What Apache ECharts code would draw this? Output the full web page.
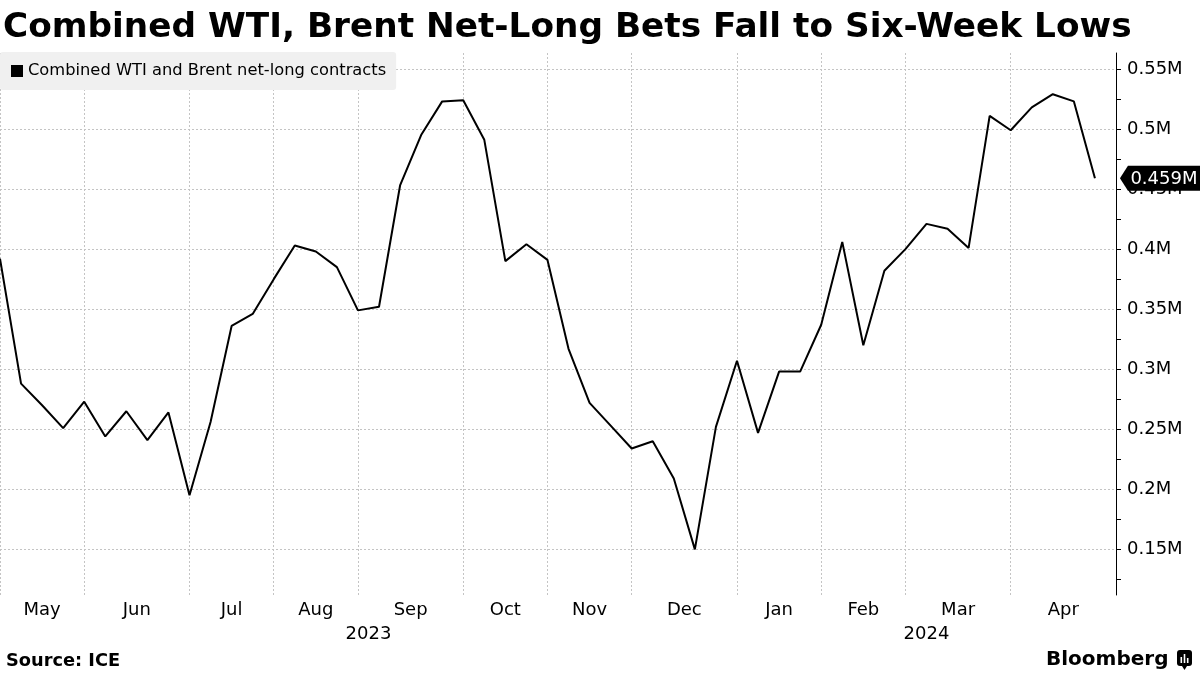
<!DOCTYPE html>
<html>
<head>
<meta charset="utf-8">
<script src="https://cdn.jsdelivr.net/npm/echarts@6/dist/echarts.min.js"></script>
<style>
  html, body { margin: 0; padding: 0; background: #fff; }
  #chart { width: 1200px; height: 675px; }
</style>
</head>
<body>
<div id="chart"></div>
<script>
// ---- Data (weekly, late Apr 2023 to Apr 2024), in millions of contracts ----
const seriesName = 'Combined WTI and Brent net-long contracts';
const values = [
  0.392, 0.288, 0.270, 0.251, 0.273, 0.244, 0.265, 0.241, 0.264, 0.195,
  0.256, 0.336, 0.346, 0.375, 0.403, 0.398, 0.385, 0.349, 0.352, 0.453,
  0.495, 0.523, 0.524, 0.491, 0.390, 0.404, 0.391, 0.317, 0.272, 0.253,
  0.234, 0.240, 0.209, 0.150, 0.252, 0.307, 0.247, 0.298, 0.298, 0.337,
  0.406, 0.320, 0.382, 0.400, 0.421, 0.417, 0.401, 0.511, 0.499, 0.518,
  0.529, 0.523, 0.459
];
// Month boundaries (week index of first observation in each month; last = axis end)
const monthBoundaries = [0, 4, 9, 13, 17, 22, 26, 30, 35, 39, 43, 48, 53];
const monthLabels = ['May', 'Jun', 'Jul', 'Aug', 'Sep', 'Oct', 'Nov', 'Dec', 'Jan', 'Feb', 'Mar', 'Apr'];
const yearBoundaries = [0, 35, 53];
const yearLabels = ['2023', '2024'];
const yTickLabels = [0.15, 0.2, 0.25, 0.3, 0.35, 0.4, 0.45, 0.5, 0.55];

// ---- Derived ----
const monthMids = monthLabels.map((_, i) => (monthBoundaries[i] + monthBoundaries[i + 1]) / 2);
const yearMids = yearLabels.map((_, i) => (yearBoundaries[i] + yearBoundaries[i + 1]) / 2);
const yTicksAll = [];
yTickLabels.forEach(v => {
  yTicksAll.push(+(v - 0.025).toFixed(3));
  yTicksAll.push(v);
});
const lastIdx = values.length - 1;
const lastVal = values[lastIdx];
const fmtM = v => parseFloat(v.toFixed(3)) + 'M';
const findLabel = (vals, labels, v) => {
  const i = vals.findIndex(x => Math.abs(x - v) < 1e-6);
  return i >= 0 ? labels[i] : '';
};

const FONT = 'DejaVu Sans';
const GRID_COLOR = '#c4c4c4';
const Y_MIN = 0.112, Y_MAX = 0.5633;

const chart = echarts.init(document.getElementById('chart'), null, { renderer: 'canvas' });
chart.setOption({
  animation: false,
  backgroundColor: '#ffffff',
  textStyle: { fontFamily: FONT },
  title: [
    {
      text: 'Combined WTI, Brent Net-Long Bets Fall to Six-Week Lows',
      left: 3, top: 11, padding: 0,
      textStyle: { fontFamily: FONT, fontSize: 34.3, fontWeight: 'bold', color: '#000' }
    },
    {
      text: 'Source: ICE',
      left: 6, top: 652, padding: 0,
      textStyle: { fontFamily: FONT, fontSize: 17.8, fontWeight: 'bold', color: '#000' }
    },
    {
      text: 'Bloomberg',
      left: 1046, top: 650, padding: 0,
      textStyle: { fontFamily: FONT, fontSize: 20, fontWeight: 'bold', color: '#000' }
    }
  ],
  legend: {
    show: true,
    left: 0, top: 52, z: 10,
    padding: [11, 10, 11, 11],
    backgroundColor: '#f0f0f0',
    borderRadius: 3,
    icon: 'rect',
    itemWidth: 12, itemHeight: 12,
    itemGap: 10,
    textStyle: { fontFamily: FONT, fontSize: 16.3, color: '#000' },
    data: [seriesName]
  },
  grid: { left: 0, right: 84, top: 53, bottom: 80, containLabel: false },
  xAxis: [
    {
      type: 'value', min: 0, max: 53, position: 'bottom',
      axisLine: { show: false },
      axisTick: { show: false, customValues: monthBoundaries },
      splitLine: { show: true, lineStyle: { color: GRID_COLOR, type: [2, 2], width: 1 } },
      axisLabel: {
        customValues: monthMids,
        formatter: v => findLabel(monthMids, monthLabels, v),
        fontFamily: FONT, fontSize: 18, color: '#000', margin: 6
      }
    },
    {
      type: 'value', min: 0, max: 53, position: 'bottom', offset: 24,
      axisLine: { show: false },
      axisTick: { show: false },
      splitLine: { show: false },
      axisLabel: {
        customValues: yearMids,
        formatter: v => findLabel(yearMids, yearLabels, v),
        fontFamily: FONT, fontSize: 18, color: '#000', margin: 6
      }
    }
  ],
  yAxis: [
    {
      type: 'value', position: 'right', min: Y_MIN, max: Y_MAX,
      axisLine: { show: true, onZero: false, lineStyle: { color: '#000', width: 1 } },
      axisTick: { show: true, inside: false, length: 5, customValues: yTicksAll, lineStyle: { color: '#000', width: 1 } },
      axisLabel: {
        customValues: yTickLabels,
        formatter: v => fmtM(v),
        fontFamily: FONT, fontSize: 18, color: '#000', margin: 11
      },
      splitLine: { show: false }
    }
  ],
  series: [
    {
      // horizontal gridlines at the labelled y values
      type: 'line',
      data: [],
      silent: true,
      z: 0,
      markLine: {
        silent: true,
        z: 0,
        symbol: ['none', 'none'],
        label: { show: false },
        lineStyle: { color: GRID_COLOR, type: [2, 2], width: 1 },
        emphasis: { disabled: true },
        data: yTickLabels.map(v => ({ yAxis: v }))
      }
    },
    {
      name: seriesName,
      type: 'line',
      xAxisIndex: 0, yAxisIndex: 0,
      data: values.map((v, i) => [i, v]),
      symbol: 'none',
      lineStyle: { color: '#000', width: 2 },
      itemStyle: { color: '#000' },
      z: 5,
      markPoint: {
        silent: true,
        z: 12,
        symbol: 'path://M0,12 L8,0 L84,0 L84,24 L8,24 Z',
        symbolSize: [84, 25],
        symbolKeepAspect: false,
        symbolOffset: [67, 0],
        itemStyle: { color: '#000' },
        label: {
          show: true, position: 'inside', offset: [2, 1],
          color: '#fff', fontFamily: FONT, fontSize: 18,
          formatter: p => fmtM(p.value)
        },
        data: [{ coord: [lastIdx, lastVal], value: lastVal }]
      }
    }
  ],
  graphic: [
    {
      type: 'group', left: 1177, top: 650,
      children: [
        { type: 'rect', shape: { x: 0, y: 0, width: 15, height: 16, r: 3 }, style: { fill: '#000' } },
        { type: 'polygon', shape: { points: [[5, 16], [10, 16], [7.5, 20]] }, style: { fill: '#000' } },
        { type: 'rect', shape: { x: 3.5, y: 7, width: 1.6, height: 6 }, style: { fill: '#fff' } },
        { type: 'rect', shape: { x: 6.7, y: 4, width: 1.6, height: 9 }, style: { fill: '#fff' } },
        { type: 'rect', shape: { x: 9.9, y: 8, width: 1.6, height: 5 }, style: { fill: '#fff' } }
      ]
    }
  ]
});
</script>
</body>
</html>
